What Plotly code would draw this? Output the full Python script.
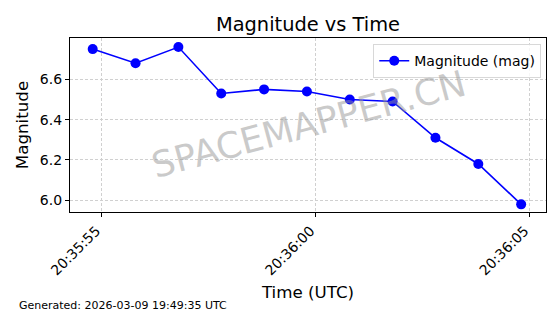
import plotly.graph_objects as go
import pandas as pd

times = ["2026-03-09 20:35:54.8", "2026-03-09 20:35:55.8", "2026-03-09 20:35:56.8",
         "2026-03-09 20:35:57.8", "2026-03-09 20:35:58.8", "2026-03-09 20:35:59.8",
         "2026-03-09 20:36:00.8", "2026-03-09 20:36:01.8", "2026-03-09 20:36:02.8",
         "2026-03-09 20:36:03.8", "2026-03-09 20:36:04.8"]
magnitude = [6.75, 6.68, 6.76, 6.53, 6.55, 6.54, 6.50, 6.49, 6.31, 6.18, 5.98]
tick_vals = ["2026-03-09 20:35:55", "2026-03-09 20:36:00", "2026-03-09 20:36:05"]
tick_text = ["20:35:55", "20:36:00", "20:36:05"]
y_ticks = [6.0, 6.2, 6.4, 6.6]

FONT = "DejaVu Sans"
GRID = "#d0d0d0"

fig = go.Figure()
fig.add_trace(go.Scatter(
    x=pd.to_datetime(times), y=magnitude, mode="lines+markers",
    name="Magnitude (mag)",
    line=dict(color="#0000ff", width=1.6),
    marker=dict(color="#0000ff", size=10),
))

fig.update_layout(
    width=560, height=314,
    margin=dict(l=70, r=14, t=38, b=102),
    paper_bgcolor="white", plot_bgcolor="white",
    font=dict(family=FONT, color="black", size=12),
    title=dict(text="Magnitude vs Time", x=0.5, xanchor="center", xref="paper",
               y=1 - 24 / 314, yanchor="middle", yref="container",
               font=dict(size=19.4, family=FONT)),
    showlegend=True,
    legend=dict(x=0.99, y=0.965, xanchor="right", yanchor="top",
                bgcolor="rgba(255,255,255,0.8)", bordercolor="#d8d8d8", borderwidth=1,
                font=dict(size=14, family=FONT), itemwidth=30),
    xaxis=dict(
        type="date",
        range=["2026-03-09 20:35:54.27", "2026-03-09 20:36:05.38"],
        tickvals=pd.to_datetime(tick_vals), ticktext=tick_text, tickangle=-45,
        tickfont=dict(size=14, family=FONT), ticklabelshift=-5,
        ticks="outside", ticklen=4, tickcolor="black",
        showline=True, linecolor="black", linewidth=1.2, mirror=True,
        showgrid=True, gridcolor=GRID, griddash="3px,2px", gridwidth=1,
        zeroline=False,
        title=dict(text="Time (UTC)", font=dict(size=16.7, family=FONT), standoff=8),
    ),
    yaxis=dict(
        range=[5.942, 6.805],
        tickvals=y_ticks, ticktext=[f"{v:.1f}" for v in y_ticks],
        tickfont=dict(size=14, family=FONT),
        ticks="outside", ticklen=4, tickcolor="black",
        showline=True, linecolor="black", linewidth=1.2, mirror=True,
        showgrid=True, gridcolor=GRID, griddash="3px,2px", gridwidth=1,
        zeroline=False,
        title=dict(text="Magnitude", font=dict(size=16.7, family=FONT), standoff=6),
    ),
)

fig.add_annotation(text="SPACEMAPPER.CN", x=0.5, y=0.505, xref="paper", yref="paper",
                   showarrow=False, textangle=-15,
                   font=dict(size=36, family=FONT, color="rgba(150,150,150,0.5)"))
fig.add_annotation(text="Generated: 2026-03-09 19:49:35 UTC",
                   x=(17 - 70) / (560 - 84), y=(212 - 305) / (212 - 38),
                   xref="paper", yref="paper", showarrow=False, xanchor="left", yanchor="middle",
                   font=dict(size=11, family=FONT, color="black"))

fig.write_html("out.html")
